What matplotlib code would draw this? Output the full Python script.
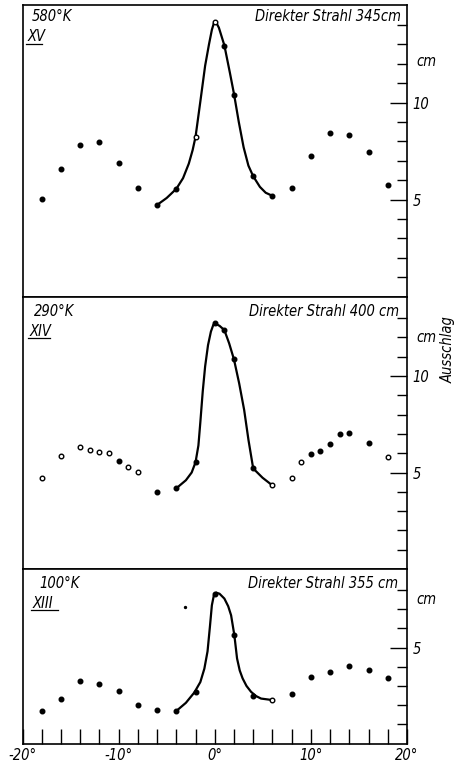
import matplotlib
matplotlib.use("Agg")
import matplotlib.pyplot as plt
from matplotlib import font_manager
from matplotlib.ticker import FixedLocator, NullFormatter

# ---------------- data ----------------
angles_top = [-18, -16, -14, -12, -10, -8, -6, -4, -2, 0, 1, 2, 4, 6, 8, 10, 12, 14, 16, 18]
values_top = [5.03, 6.56, 7.83, 7.97, 6.89, 5.60, 4.72, 5.55, 8.23, 14.15, 12.9, 10.41,
              6.20, 5.19, 5.60, 7.25, 8.43, 8.31, 7.44, 5.74]
open_top = [-2, 0]
curve_top_x = [-6.0, -5.0, -4.0, -3.3, -2.7, -2.3, -2.0, -1.5, -1.0, -0.6, -0.3, -0.1, 0.0,
               0.2, 0.43, 1.0, 1.57, 2.0, 2.5, 3.0, 3.5, 4.0, 4.7, 5.3, 6.0]
curve_top_y = [4.72, 5.08, 5.55, 6.1, 6.85, 7.55, 8.23, 10.05, 11.9, 13.0, 13.75, 14.08, 14.15,
               14.08, 13.86, 12.95, 11.55, 10.45, 9.0, 7.7, 6.75, 6.2, 5.65, 5.35, 5.19]

angles_mid = [-18, -16, -14, -13, -12, -11, -10, -9, -8, -6, -4, -2, 0, 1, 2, 4, 6,
              8, 9, 10, 11, 12, 13, 14, 16, 18]
values_mid = [4.73, 5.85, 6.32, 6.15, 6.06, 6.03, 5.61, 5.28, 5.04, 3.99, 4.18, 5.53,
              12.73, 12.38, 10.86, 5.21, 4.33, 4.73, 5.55, 5.95, 6.14, 6.48, 6.97, 7.05,
              6.52, 5.80]
open_mid = [-18, -16, -14, -13, -12, -11, -9, -8, 6, 8, 9, 18]
curve_mid_x = [-4.0, -3.0, -2.4, -2.0, -1.7, -1.5, -1.25, -1.0, -0.7, -0.4, -0.15, 0.0, 0.5,
               1.0, 1.5, 2.0, 2.54, 3.06, 3.51, 4.0, 4.97, 6.0]
curve_mid_y = [4.18, 4.6, 5.0, 5.53, 6.4, 7.6, 9.2, 10.5, 11.6, 12.3, 12.65, 12.73, 12.6,
               12.38, 11.69, 10.86, 9.62, 8.24, 6.68, 5.21, 4.73, 4.33]

angles_bot = [-18, -16, -14, -12, -10, -8, -6, -4, -2, 0, 2, 4, 6, 8, 10, 12, 14, 16, 18]
values_bot = [1.70, 2.31, 3.24, 3.09, 2.76, 2.03, 1.72, 1.68, 2.69, 7.81, 5.64, 2.46,
              2.26, 2.60, 3.49, 3.73, 4.03, 3.82, 3.39]
open_bot = [6]
curve_bot_x = [-4.03, -3.0, -2.12, -1.5, -1.08, -0.75, -0.5, -0.3, -0.1, 0.15, 0.5, 1.0, 1.4,
               1.7, 2.04, 2.32, 2.6, 2.9, 3.3, 3.78, 4.3, 4.82, 6.04]
curve_bot_y = [1.68, 2.12, 2.66, 3.2, 3.9, 4.8, 6.1, 7.2, 7.7, 7.86, 7.8, 7.55, 7.15,
               6.68, 5.64, 4.43, 3.8, 3.39, 3.0, 2.69, 2.47, 2.34, 2.26]
stray_x = [-3.1]
stray_y = [7.1]

temps = ["580°K", "290°K", "100°K"]
roman = ["XV", "XIV", "XIII"]
direct = ["Direkter Strahl 345cm", "Direkter Strahl 400 cm", "Direkter Strahl 355 cm"]
ylims = [15.03, 14.12, 9.09]
ytick_labels = [[5, 10], [5, 10], [5]]
cm_pos = [12.1, 12.0, 7.5]
xtick_major = [-20, -10, 0, 10, 20]
xtick_labels = ["-20°", "-10°", "0°", "10°", "20°"]

# ---------------- fonts ----------------
fam = "DejaVu Sans"
for cand in ["Liberation Sans Narrow", "DejaVu Sans"]:
    try:
        font_manager.findfont(cand, fallback_to_default=False)
        fam = cand
        break
    except Exception:
        pass
plt.rcParams["font.family"] = [fam, "DejaVu Sans"]
FS = dict(style="italic", fontsize=10.5, fontstretch="condensed")

W, H = 457, 763
fig = plt.figure(figsize=(W / 100, H / 100), dpi=100)
left_px, right_px = 22.5, 407.0
panels_px = [(5.0, 296.5), (296.5, 569.0), (569.0, 743.5)]
text_y_px = [(17, 37), (312, 331), (583, 603)]
direct_right_px = [401, 399, 398]
temp_x_px = [32, 34, 39]
roman_x_px = [28, 30, 33]

datasets = [
    (angles_top, values_top, open_top, curve_top_x, curve_top_y),
    (angles_mid, values_mid, open_mid, curve_mid_x, curve_mid_y),
    (angles_bot, values_bot, open_bot, curve_bot_x, curve_bot_y),
]

for i, ((top, bot), ds) in enumerate(zip(panels_px, datasets)):
    ax = fig.add_axes([left_px / W, (H - bot) / H, (right_px - left_px) / W, (bot - top) / H])
    ang, val, opn, cx, cy = ds
    ax.plot(cx, cy, color="black", lw=1.6, solid_capstyle="round",
            solid_joinstyle="round", zorder=2)
    fx = [a for a in ang if a not in opn]
    fy = [v for a, v in zip(ang, val) if a not in opn]
    ox = [a for a in ang if a in opn]
    oy = [v for a, v in zip(ang, val) if a in opn]
    ax.plot(fx, fy, "o", ms=3.3, color="black", zorder=3)
    ax.plot(ox, oy, "o", ms=3.3, mfc="white", mec="black", mew=1.0, zorder=3)
    ax.set_xlim(-20, 20)
    ax.set_ylim(0, ylims[i])
    for s in ax.spines.values():
        s.set_linewidth(1.2)
    ax.yaxis.tick_right()
    maj = ytick_labels[i]
    nmax = int(ylims[i] - 0.5)
    minor = [k for k in range(1, nmax + 1) if k not in maj]
    ax.yaxis.set_major_locator(FixedLocator(maj))
    ax.yaxis.set_minor_locator(FixedLocator(minor))
    ax.yaxis.set_minor_formatter(NullFormatter())
    ax.tick_params(axis="y", which="major", direction="in", length=12, width=1.0,
                   right=True, left=False, labelright=True, labelleft=False, pad=4,
                   labelsize=10.5)
    ax.tick_params(axis="y", which="minor", direction="in", length=7, width=1.0,
                   right=True, left=False)
    for lab in ax.get_yticklabels():
        lab.set_style("italic")
        lab.set_fontstretch("condensed")
    ax.text(1.025, cm_pos[i], "cm", transform=ax.get_yaxis_transform(),
            ha="left", va="center", **FS)
    h = bot - top
    wpx = right_px - left_px
    ax.text((temp_x_px[i] - left_px) / wpx, 1 - (text_y_px[i][0] - top) / h,
            temps[i], transform=ax.transAxes, ha="left", va="center", **FS)
    ry = 1 - (text_y_px[i][1] - top) / h
    rx = (roman_x_px[i] - left_px) / wpx
    ax.text(rx, ry, roman[i], transform=ax.transAxes, ha="left", va="center", **FS)
    ulen = (3 + 5.5 * len(roman[i])) / wpx
    ax.plot([rx - 0.004, rx + ulen], [ry - 7 / h, ry - 7 / h], transform=ax.transAxes,
            color="black", lw=0.9, clip_on=False)
    ax.text((direct_right_px[i] - left_px) / wpx, 1 - (text_y_px[i][0] - top) / h,
            direct[i], transform=ax.transAxes, ha="right", va="center", **FS)
    if i < 2:
        ax.tick_params(axis="x", which="both", bottom=False, top=False,
                       labelbottom=False)
    else:
        ax.xaxis.set_major_locator(FixedLocator(xtick_major))
        ax.xaxis.set_minor_locator(FixedLocator([k for k in range(-18, 19, 2) if k % 10 != 0]))
        ax.set_xticklabels(xtick_labels)
        ax.tick_params(axis="x", which="both", direction="in", length=11, width=1.0,
                       labelsize=10.5, pad=3)
        for lab in ax.get_xticklabels():
            lab.set_style("italic")
            lab.set_fontstretch("condensed")
        ax.plot(stray_x, stray_y, "o", ms=1.4, color="black")

fig.text(448 / W, (H - 350) / H, "Ausschlag", rotation=90, ha="center", va="center", **FS)

fig.savefig("out.png", dpi=100)
